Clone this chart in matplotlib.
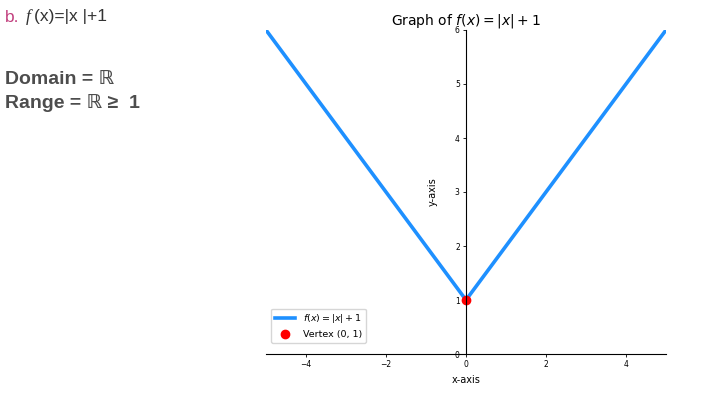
import numpy as np
import matplotlib
matplotlib.use("Agg")
import matplotlib.pyplot as plt

# data
x_vals = np.array([-5, 0, 5])
y_vals = np.abs(x_vals) + 1
vertex = (0, 1)
x_ticks = [-4, -2, 0, 2, 4]
y_ticks = [0, 1, 2, 3, 4, 5, 6]

W, H = 702, 397
fig = plt.figure(figsize=(W / 100, H / 100), dpi=100)


def px(x, y):
    return x / W, 1 - y / H


# left-hand notes
fig.text(*px(5, 17), "b.", color="#c2407e", fontsize=12.5, family="Liberation Sans", va="center")
fig.text(*px(26, 17), "f", color="#333333", fontsize=12.5, family="Liberation Serif",
         style="italic", va="center")
fig.text(*px(34, 17), "(x)=|x |+1", color="#333333", fontsize=12.5, family="Liberation Sans", va="center")
fig.text(*px(5, 79), "Domain = ℝ", color="#4d4d4d", fontsize=14, weight="bold",
         family=["Liberation Sans", "DejaVu Sans"], va="center")
fig.text(*px(5, 103), "Range = ℝ ≥  1", color="#4d4d4d", fontsize=14, weight="bold",
         family=["Liberation Sans", "DejaVu Sans"], va="center")

ax = fig.add_axes([266 / W, 43 / H, 400 / W, 324 / H])
ax.plot(x_vals, y_vals, color="#1E90FF", lw=2.6, label=r"$f(x) = |x| + 1$")
ax.plot([vertex[0]], [vertex[1]], "o", color="red", ms=6, label="Vertex (0, 1)", lw=0)

ax.set_xlim(-5, 5)
ax.set_ylim(0, 6)
ax.spines["left"].set_position(("data", 0))
ax.spines["bottom"].set_position(("data", 0))
ax.spines["top"].set_visible(False)
ax.spines["right"].set_visible(False)
ax.set_xticks(x_ticks)
ax.set_yticks(y_ticks)
ax.tick_params(labelsize=5.5, length=2.5, width=0.6, pad=2)
ax.set_title(r"Graph of $f(x) = |x| + 1$", fontsize=10, pad=4)
ax.set_xlabel("x-axis", fontsize=7)
ax.set_ylabel("y-axis", fontsize=7)
ax.yaxis.set_label_coords(0.43, 0.5)
ax.legend(loc="lower left", fontsize=6.8, bbox_to_anchor=(0.0, 0.02), handlelength=2.2)

fig.savefig("out.png", dpi=100)
